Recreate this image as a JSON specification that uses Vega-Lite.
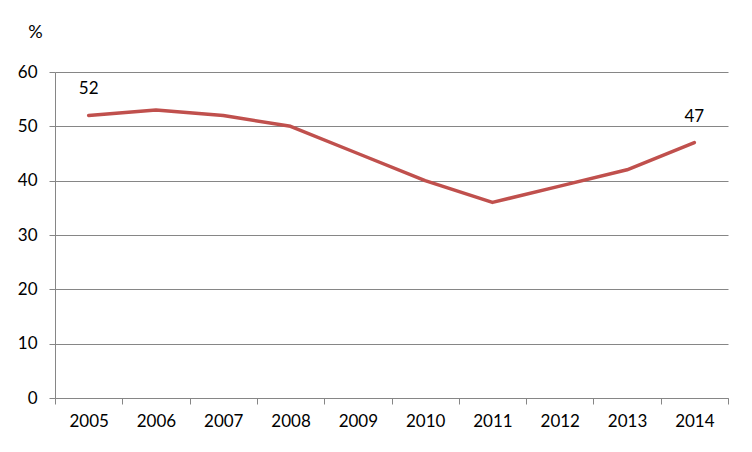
{
  "$schema": "https://vega.github.io/schema/vega-lite/v6.json",
  "width": 673,
  "height": 326,
  "autosize": {"type": "none"},
  "padding": {"left": 55, "top": 72, "right": 24, "bottom": 54},
  "background": "white",
  "data": {
    "values": [
      {"year": "2005", "value": 52, "label": "52"},
      {"year": "2006", "value": 53, "label": ""},
      {"year": "2007", "value": 52, "label": ""},
      {"year": "2008", "value": 50, "label": ""},
      {"year": "2009", "value": 45, "label": ""},
      {"year": "2010", "value": 40, "label": ""},
      {"year": "2011", "value": 36, "label": ""},
      {"year": "2012", "value": 39, "label": ""},
      {"year": "2013", "value": 42, "label": ""},
      {"year": "2014", "value": 47, "label": "47"}
    ]
  },
  "encoding": {
    "x": {
      "field": "year",
      "type": "ordinal",
      "scale": {"type": "band", "paddingInner": 0, "paddingOuter": 0},
      "axis": {
        "title": null,
        "labelAngle": 0,
        "grid": false,
        "tickBand": "extent",
        "ticks": true,
        "tickSize": 6,
        "tickColor": "#868686",
        "domainColor": "#868686",
        "labelPadding": 9,
        "labelFont": "Lato",
        "labelFontSize": 17,
        "labelColor": "#000000"
      }
    },
    "y": {
      "field": "value",
      "type": "quantitative",
      "scale": {"domain": [0, 60]},
      "axis": {
        "values": [0, 10, 20, 30, 40, 50, 60],
        "title": "%",
        "titleAngle": 0,
        "titleAlign": "center",
        "titleBaseline": "alphabetic",
        "titleX": -20,
        "titleY": -35,
        "titleFont": "Lato",
        "titleFontSize": 18,
        "titleFontWeight": "normal",
        "titleColor": "#000000",
        "grid": true,
        "gridColor": "#868686",
        "gridWidth": 1,
        "tickSize": 6,
        "tickColor": "#868686",
        "domainColor": "#868686",
        "labelPadding": 12,
        "labelFont": "Lato",
        "labelFontSize": 17,
        "labelColor": "#000000"
      }
    }
  },
  "layer": [
    {
      "mark": {"type": "line", "color": "#C0504D", "strokeWidth": 3.5, "strokeCap": "round", "strokeJoin": "round"}
    },
    {
      "mark": {"type": "text", "dy": -26, "baseline": "middle", "font": "Lato", "fontSize": 17, "color": "#000000"},
      "encoding": {"text": {"field": "label"}}
    }
  ],
  "config": {
    "view": {"stroke": null}
  }
}
